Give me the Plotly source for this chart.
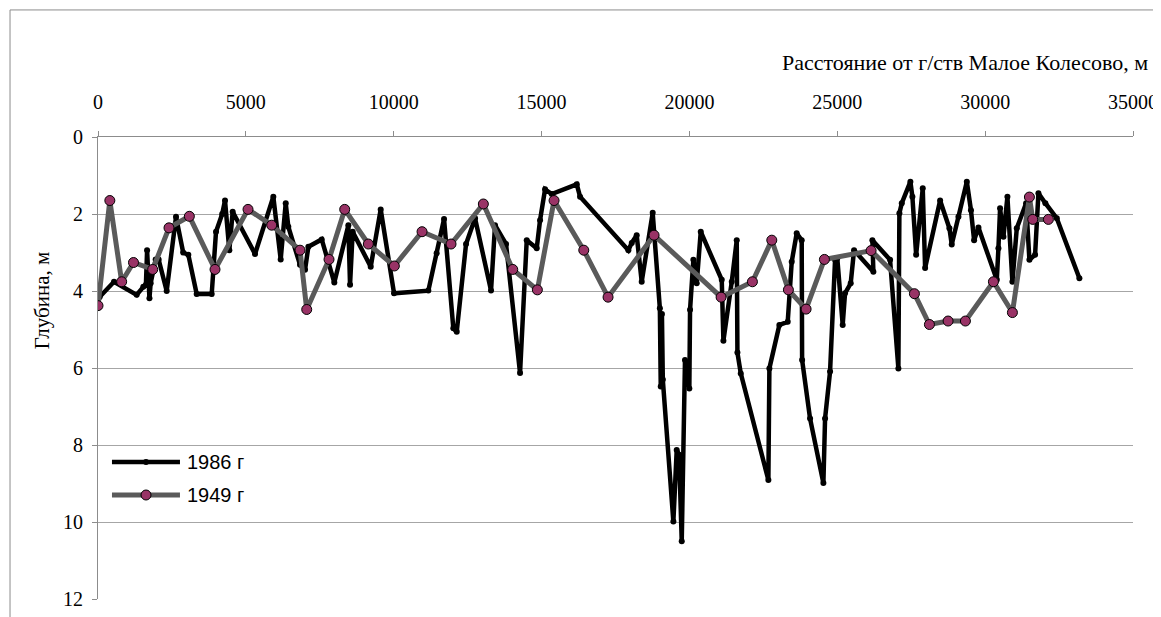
import plotly.graph_objects as go

# 1986 survey: distance (m), depth (m)
x1986 = [0, 60, 541, 1308, 1533, 1620, 1660, 1740, 1780, 1950, 2050, 2323, 2638, 2880, 3055, 3337,
         3845, 3991, 4200, 4295, 4441, 4554, 5310, 5929, 6178, 6348, 6436, 6832, 7001, 7114,
         7565, 7992, 8466, 8523, 8613, 9222, 9560, 10011, 11171, 11452, 11702, 12016, 12131,
         12446, 12750, 13291, 13426, 13798, 14272, 14498, 14836, 14949, 15118, 15344, 16190,
         16302, 17935, 18050, 18217, 18386, 18758, 19000, 19030, 19070, 19100, 19457, 19570,
         19650, 19740, 19850, 19997, 20021, 20133, 20246, 20383, 21093, 21149, 21431, 21600,
         21623, 21736, 22670, 22704, 23042, 23324, 23459, 23628, 23797, 23810, 24079, 24530,
         24587, 24756, 24925, 25000, 25183, 25262, 25454, 25567, 26221, 26187, 26785, 27066,
         27100, 27181, 27472, 27540, 27667, 27890, 27970, 28477, 28792, 28870, 29097, 29380,
         29520, 29627, 29773, 30394, 30449, 30505, 30618, 30753, 30922, 31070, 31385, 31497,
         31689, 31802, 32037, 32423, 33187]
d1986 = [4.3, 4.15, 3.76, 4.1, 3.89, 3.84, 2.94, 4.19, 3.8, 3.18, 3.18, 4.0, 2.07, 3.0, 3.06, 4.08,
         4.08, 2.46, 2.0, 1.65, 2.94, 1.94, 3.04, 1.55, 3.18, 1.72, 2.33, 3.32, 3.45, 2.85,
         2.66, 3.78, 2.29, 3.84, 2.46, 3.37, 1.88, 4.06, 3.99, 3.02, 2.13, 4.97, 5.06,
         2.78, 2.11, 3.99, 2.29, 2.78, 6.13, 2.68, 2.89, 2.16, 1.36, 1.48, 1.23,
         1.55, 2.94, 2.75, 2.55, 3.76, 1.97, 4.45, 6.48, 4.6, 6.3, 9.99, 8.13,
         8.25, 10.5, 5.79, 6.53, 4.49, 3.19, 3.8, 2.46, 3.71, 5.29, 3.76, 2.68,
         5.6, 6.14, 8.91, 6.01, 4.88, 4.8, 3.24, 2.5, 2.68, 5.79, 7.31, 8.99,
         7.31, 6.09, 3.19, 3.15, 4.88, 4.06, 3.8, 2.94, 3.5, 2.68, 3.19, 6.01,
         1.98, 1.72, 1.16, 1.55, 3.06, 1.33, 3.4, 1.65, 2.37, 2.79, 2.07, 1.16,
         1.9, 2.68, 2.35, 3.71, 2.89, 1.85, 2.59, 1.55, 3.76, 2.37, 1.72, 3.19,
         3.06, 1.46, 1.72, 2.11, 3.67]

# 1949 survey
x1949 = [0, 400, 800, 1200, 1850, 2401, 3089, 3957, 5073, 5874, 6832, 7058, 7812, 8343, 9142,
         10021, 10958, 11938, 13031, 14025, 14858, 15422, 16427, 17248, 18804, 21071, 22130,
         22785, 23347, 23945, 24565, 26143, 27608, 28116, 28747, 29333, 30280, 30922, 31497,
         31610, 32139]
d1949 = [4.38, 1.65, 3.76, 3.26, 3.44, 2.36, 2.06, 3.44, 1.88, 2.29, 2.94, 4.48, 3.18, 1.88, 2.78,
         3.35, 2.46, 2.78, 1.74, 3.44, 3.97, 1.65, 2.94, 4.16, 2.55, 4.16, 3.76,
         2.68, 3.97, 4.47, 3.18, 2.95, 4.07, 4.87, 4.78, 4.78, 3.76, 4.56, 1.56,
         2.14, 2.14]

series_names = ["1986 г", "1949 г"]
x_ticks = [0, 5000, 10000, 15000, 20000, 25000, 30000, 35000]
y_ticks = [0, 2, 4, 6, 8, 10, 12]

C1986 = "black"
C1949_LINE = "#5a5a5a"
C1949_MARK = "#993366"

fig = go.Figure()
fig.add_trace(go.Scatter(
    x=x1986, y=d1986, mode="lines+markers", name=series_names[0],
    line=dict(color=C1986, width=4.5),
    marker=dict(color=C1986, size=6),
))
fig.add_trace(go.Scatter(
    x=x1949, y=d1949, mode="lines+markers", name=series_names[1],
    line=dict(color=C1949_LINE, width=5),
    marker=dict(color=C1949_MARK, size=10, line=dict(color="black", width=1)),
))

serif = "Liberation Serif, Times New Roman, serif"
sans = "Liberation Sans, Arial, sans-serif"
# page body has an 8px margin: offsets compensated in margins
fig.update_layout(
    width=1161, height=617,
    margin=dict(l=90, r=36, t=129, b=26),
    paper_bgcolor="white", plot_bgcolor="white",
    showlegend=False,
    xaxis=dict(side="top", range=[0, 35000], tickvals=x_ticks,
               ticktext=[str(v) for v in x_ticks],
               showgrid=False, zeroline=False,
               showline=True, linecolor="#8c8c8c", linewidth=1,
               ticks="outside", ticklen=5, tickcolor="#8c8c8c",
               ticklabelstandoff=14,
               tickfont=dict(family=serif, size=20, color="black")),
    yaxis=dict(range=[12, 0], tickvals=y_ticks,
               showgrid=True, gridcolor="#a6a6a6", gridwidth=1,
               zeroline=False, showline=True, linecolor="#8c8c8c", linewidth=1,
               ticks="outside", ticklen=5, tickcolor="#8c8c8c",
               ticklabelstandoff=5,
               tickfont=dict(family=serif, size=20, color="black")),
)

fig.add_annotation(text="Расстояние от г/ств Малое Колесово, м",
                   xref="paper", yref="paper", x=1.0164, y=1.162,
                   xanchor="right", yanchor="middle", showarrow=False,
                   font=dict(family=serif, size=22, color="black"))
fig.add_annotation(text="Глубина, м", xref="paper", yref="paper",
                   x=-0.054, y=0.647, textangle=-90,
                   xanchor="center", yanchor="middle", showarrow=False,
                   font=dict(family=serif, size=21, color="black"))

# outer chart border
fig.add_shape(type="rect", xref="paper", yref="paper",
              x0=-0.085, x1=1.05, y0=-0.2, y1=1.275,
              line=dict(color="#8c8c8c", width=1), fillcolor="rgba(0,0,0,0)", layer="below")

# custom legend (long line samples as in the original)
leg_rows = [0.2965, 0.2251]
lx0, lx1, lxm, ltx = 0.0135, 0.0792, 0.0464, 0.084
fig.add_shape(type="line", xref="paper", yref="paper", x0=lx0, x1=lx1,
              y0=leg_rows[0], y1=leg_rows[0], line=dict(color=C1986, width=4.5))
fig.add_shape(type="circle", xref="paper", yref="paper", xsizemode="pixel", ysizemode="pixel",
              xanchor=lxm, yanchor=leg_rows[0], x0=-3, x1=3, y0=-3, y1=3,
              fillcolor=C1986, line=dict(color=C1986, width=0))
fig.add_shape(type="line", xref="paper", yref="paper", x0=lx0, x1=lx1,
              y0=leg_rows[1], y1=leg_rows[1], line=dict(color=C1949_LINE, width=5))
fig.add_shape(type="circle", xref="paper", yref="paper", xsizemode="pixel", ysizemode="pixel",
              xanchor=lxm, yanchor=leg_rows[1], x0=-5, x1=5, y0=-5, y1=5,
              fillcolor=C1949_MARK, line=dict(color="black", width=1))
for name, yy in zip(series_names, leg_rows):
    fig.add_annotation(text=name, xref="paper", yref="paper", x=ltx, y=yy,
                       xanchor="left", yanchor="middle", showarrow=False,
                       font=dict(family=sans, size=20, color="black"))

fig.write_html("out.html")
